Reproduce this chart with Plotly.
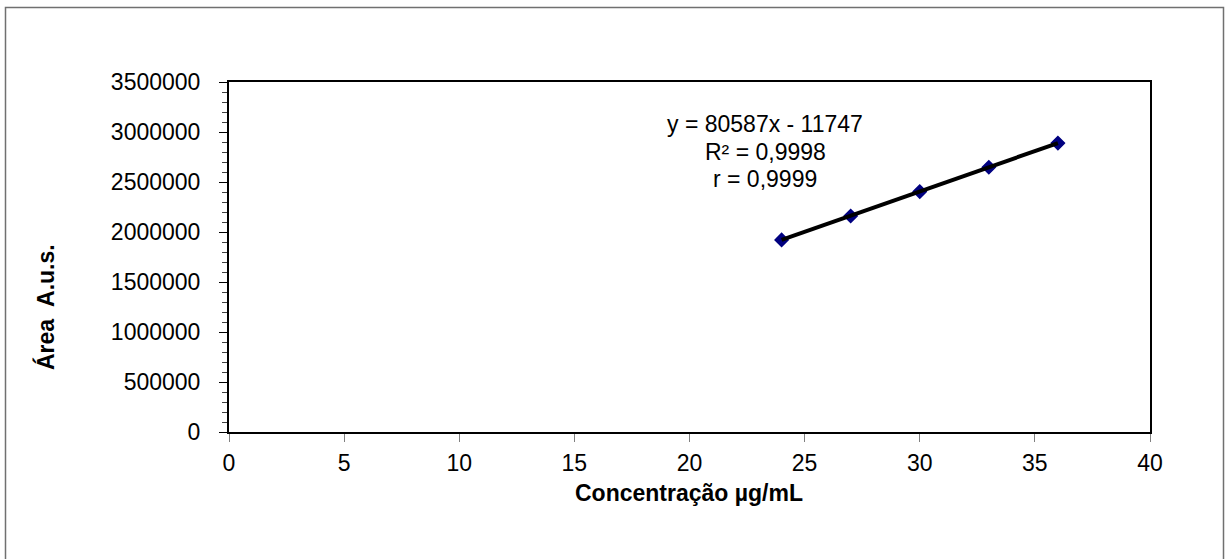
import plotly.graph_objects as go

# Calibration data
concentracao = [24, 27, 30, 33, 36]
area = [1921000, 2160000, 2404000, 2647000, 2889000]

# Linear regression reported for the calibration curve
slope = 80587
intercept = -11747
r2_text = "0,9998"
r_text = "0,9999"

x_ticks = [0, 5, 10, 15, 20, 25, 30, 35, 40]
y_ticks = [0, 500000, 1000000, 1500000, 2000000, 2500000, 3000000, 3500000]

W, H = 1225, 559
L, R, T, B = 229, 1150, 82, 432  # plot area in pixels

FONT = "Arial, Liberation Sans, sans-serif"

fit_x = [min(concentracao), max(concentracao)]
fit_y = [slope * v + intercept for v in fit_x]

fig = go.Figure()
fig.add_trace(go.Scatter(
    x=concentracao, y=area, mode="markers",
    marker=dict(symbol="diamond", size=10, color="#000080",
                line=dict(color="#000080", width=1.5)),
    hoverinfo="x+y", showlegend=False,
))
fig.add_trace(go.Scatter(
    x=fit_x, y=fit_y, mode="lines",
    line=dict(color="black", width=4),
    showlegend=False,
))

sign = "-" if intercept < 0 else "+"
eq_lines = [
    f"y = {slope}x {sign} {abs(intercept)}",
    f"R² = {r2_text}",
    f"r = {r_text}",
]
eq_y = [3080000, 2800000, 2530000]
for txt, yy in zip(eq_lines, eq_y):
    fig.add_annotation(x=23.3, y=yy, xref="x", yref="y", text=txt,
                       showarrow=False, xanchor="center", yanchor="middle",
                       font=dict(family=FONT, size=23, color="black"))

pw, ph = R - L, B - T


def px_x(p):
    return (p - L) / pw


def px_y(p):
    return (B - p) / ph


# axis titles
fig.add_annotation(x=px_x(689), y=px_y(493), xref="paper", yref="paper",
                   text="<b>Concentração µg/mL</b>", showarrow=False,
                   xanchor="center", yanchor="middle",
                   font=dict(family=FONT, size=23, color="black"))
fig.add_annotation(x=px_x(45), y=px_y(307), xref="paper", yref="paper",
                   text="<b>Área  A.u.s.</b>", showarrow=False, textangle=-90,
                   xanchor="center", yanchor="middle",
                   font=dict(family=FONT, size=23, color="black"))

# outer chart frame
fig.add_shape(type="rect", xref="paper", yref="paper",
              x0=px_x(5.5), x1=px_x(1223.5), y0=px_y(570), y1=px_y(7.5),
              line=dict(color="#707070", width=1.5), fillcolor="rgba(0,0,0,0)",
              layer="below")

fig.update_xaxes(
    range=[0, 40], tickvals=x_ticks, ticktext=[str(v) for v in x_ticks],
    showgrid=False, zeroline=False,
    showline=True, linecolor="black", linewidth=2, mirror=True,
    ticks="outside", ticklen=8, tickwidth=1, tickcolor="#808080",
    ticklabelstandoff=1,
    tickfont=dict(family=FONT, size=23, color="black"),
)
fig.update_yaxes(
    range=[0, 3500000], tickvals=y_ticks, ticktext=[str(v) for v in y_ticks],
    showgrid=False, zeroline=False,
    showline=True, linecolor="black", linewidth=2, mirror=True,
    ticks="outside", ticklen=8, tickwidth=1, tickcolor="black",
    ticklabelstandoff=14,
    minor=dict(dtick=100000, ticks="outside", ticklen=5, tickwidth=1,
               tickcolor="#404040", showgrid=False),
    tickfont=dict(family=FONT, size=23, color="black"),
)

fig.update_layout(
    width=W, height=H,
    margin=dict(l=L, r=W - R, t=T, b=H - B),
    paper_bgcolor="white", plot_bgcolor="white",
    showlegend=False,
)

fig.write_html("out.html")
